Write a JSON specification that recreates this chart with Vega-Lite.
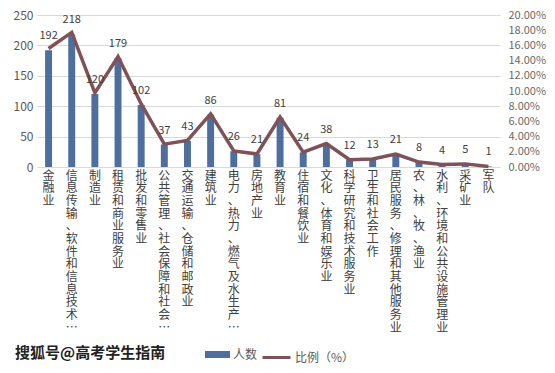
{
  "$schema": "https://vega.github.io/schema/vega-lite/v6.json",
  "width": 463,
  "height": 152,
  "autosize": {"type": "none"},
  "padding": {"left": 37, "top": 15, "right": 55, "bottom": 206},
  "background": "white",
  "config": {
    "font": "Noto Sans CJK SC",
    "view": {"stroke": null},
    "axis": {"labelFont": "Noto Sans CJK SC", "labelColor": "#595959", "labelFontSize": 11}
  },
  "title": {
    "text": "搜狐号@高考学生指南",
    "orient": "bottom",
    "anchor": "start",
    "frame": "bounds",
    "fontSize": 15,
    "fontWeight": "bold",
    "color": "#222222",
    "offset": 0,
    "dx": 2,
    "dy": -18
  },
  "data": {
    "values": [
      {"industry": "金融业", "count": 192, "pct": 0.1560},
      {"industry": "信息传输、软件和信息技术…", "count": 218, "pct": 0.1771},
      {"industry": "制造业", "count": 120, "pct": 0.0975},
      {"industry": "租赁和商业服务业", "count": 179, "pct": 0.1454},
      {"industry": "批发和零售业", "count": 102, "pct": 0.0829},
      {"industry": "公共管理、社会保障和社会…", "count": 37, "pct": 0.0301},
      {"industry": "交通运输、仓储和邮政业", "count": 43, "pct": 0.0349},
      {"industry": "建筑业", "count": 86, "pct": 0.0699},
      {"industry": "电力、热力、燃气及水生产…", "count": 26, "pct": 0.0211},
      {"industry": "房地产业", "count": 21, "pct": 0.0171},
      {"industry": "教育业", "count": 81, "pct": 0.0658},
      {"industry": "住宿和餐饮业", "count": 24, "pct": 0.0195},
      {"industry": "文化、体育和娱乐业", "count": 38, "pct": 0.0309},
      {"industry": "科学研究和技术服务业", "count": 12, "pct": 0.0097},
      {"industry": "卫生和社会工作", "count": 13, "pct": 0.0106},
      {"industry": "居民服务、修理和其他服务业", "count": 21, "pct": 0.0171},
      {"industry": "农、林、牧、渔业", "count": 8, "pct": 0.0065},
      {"industry": "水利、环境和公共设施管理业", "count": 4, "pct": 0.0032},
      {"industry": "采矿业", "count": 5, "pct": 0.0041},
      {"industry": "军队", "count": 1, "pct": 0.0008}
    ]
  },
  "encoding": {
    "x": {
      "field": "industry",
      "type": "nominal",
      "sort": null,
      "scale": {"paddingInner": 0.7, "paddingOuter": 0.35},
      "axis": {
        "title": null,
        "labelAngle": 0,
        "labelExpr": "split(datum.label, '')",
        "labelLineHeight": 12.7,
        "labelFontSize": 12,
        "labelAlign": "center",
        "labelBaseline": "top",
        "labelPadding": 3,
        "ticks": false,
        "domainColor": "#D9D9D9",
        "labelColor": "#404040",
        "labelLimit": 0,
        "labelOverlap": false
      }
    }
  },
  "layer": [
    {
      "mark": {"type": "bar", "color": "#4E6E9E"},
      "encoding": {
        "y": {
          "field": "count",
          "type": "quantitative",
          "scale": {"domain": [0, 250]},
          "axis": {
            "title": null,
            "values": [0, 50, 100, 150, 200, 250],
            "grid": true,
            "gridColor": "#D9D9D9",
            "domain": false,
            "ticks": false,
            "labelPadding": 4,
            "labelFontSize": 12
          }
        },
        "color": {
          "datum": "人数",
          "scale": {"range": ["#4E6E9E"]},
          "legend": {
            "orient": "none",
            "legendX": 168,
            "legendY": 327,
            "title": null,
            "symbolType": "M-1,-0.28H1V0.28H-1Z",
            "symbolSize": 625,
            "symbolStrokeWidth": 0,
            "labelFontSize": 12,
            "labelColor": "#595959",
            "labelOffset": 3
          }
        }
      }
    },
    {
      "mark": {"type": "line", "strokeWidth": 3.5, "color": "#7E5256"},
      "encoding": {
        "y": {
          "field": "pct",
          "type": "quantitative",
          "scale": {"domain": [0, 0.2]},
          "axis": {
            "title": null,
            "orient": "right",
            "format": ".2%",
            "values": [0, 0.02, 0.04, 0.06, 0.08, 0.1, 0.12, 0.14, 0.16, 0.18, 0.2],
            "grid": false,
            "domain": false,
            "ticks": false,
            "labelPadding": 8,
            "labelFontSize": 11,
            "labelColor": "#6a6a6a"
          }
        },
        "stroke": {
          "datum": "比例（%）",
          "scale": {"range": ["#7E5256"]},
          "legend": {
            "orient": "none",
            "legendX": 224,
            "legendY": 327,
            "title": null,
            "symbolType": "stroke",
            "symbolSize": 784,
            "symbolStrokeWidth": 3,
            "labelFontSize": 12,
            "labelColor": "#595959",
            "labelOffset": 3
          }
        }
      }
    },
    {
      "mark": {"type": "text", "baseline": "middle", "dy": -14, "fontSize": 11, "color": "#404040"},
      "encoding": {
        "y": {"field": "count", "type": "quantitative", "scale": {"domain": [0, 250]}, "axis": null},
        "text": {"field": "count", "type": "quantitative"}
      }
    }
  ],
  "resolve": {"scale": {"y": "independent", "color": "independent", "stroke": "independent"}}
}
